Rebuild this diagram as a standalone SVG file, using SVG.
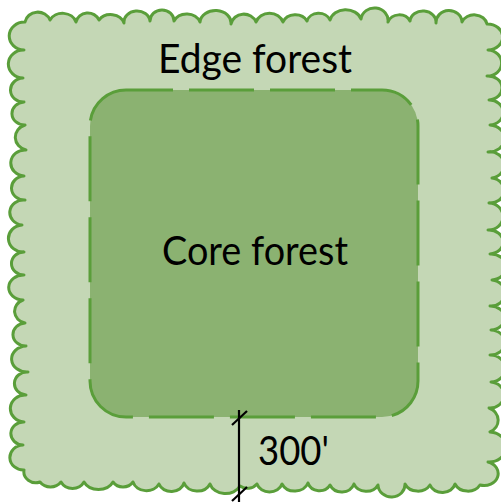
<svg xmlns="http://www.w3.org/2000/svg" width="501" height="502" viewBox="0 0 501 502">
<style>
.lbl{font-family:Lato,"Open Sans",sans-serif;font-size:40px;fill:#000}
</style>
<rect width="501" height="502" fill="#fff"/>
<g id="edge-forest">
<path d="M25,22 A13,12 0 0 1 50,20 A14,12 0 0 1 76,22 A12,11 0 0 1 99,20 A14,12 0 0 1 124,23 A13,11 0 0 1 150,21 A12,11 0 0 1 174,21 A14,12 0 0 1 200,22 A15,12 0 0 1 231,24 A13,12 0 0 1 256,22 A14,12 0 0 1 283,22 A13,11 0 0 1 307,21 A12,10 0 0 1 330,20 A16,13 0 0 1 361,19 A13,12 0 0 1 388,22 A12,11 0 0 1 410,21 A13,11 0 0 1 436,23 A13,12 0 0 1 462,22 A13,11 0 0 1 487,24
A14,12 0 0 1 488,50 A13,12 0 0 1 487,76 A14,12 0 0 1 489,100 A12,11 0 0 1 490,125 A15,13 0 0 1 488,152 A13,12 0 0 1 492,178 A13,12 0 0 1 489,203 A14,13 0 0 1 488,230 A13,11 0 0 1 490,254 A14,12 0 0 1 492,280 A13,12 0 0 1 490,306 A13,11 0 0 1 491,330 A14,12 0 0 1 490,355 A13,12 0 0 1 491,382 A13,12 0 0 1 489,408 A14,13 0 0 1 490,432 A15,13 0 0 1 488,462 A13,11 0 0 1 480,485
A14,12 0 0 1 455,484 A13,11 0 0 1 430,485 A14,12 0 0 1 405,484 A13,12 0 0 1 378,485 A13,11 0 0 1 354,484 A13,12 0 0 1 330,485 A12,11 0 0 1 308,483 A14,12 0 0 1 282,484 A13,11 0 0 1 257,484 A12,11 0 0 1 240,486 A16,13 0 0 1 210,484 A14,12 0 0 1 184,483 A13,11 0 0 1 159,484 A14,12 0 0 1 133,482 A12,11 0 0 1 113,482 A16,13 0 0 1 84,482 A13,12 0 0 1 61,482 A13,12 0 0 1 40,482 A12,11 0 0 1 24,470
A12,11 0 0 1 23,445 A11,10 0 0 1 24,422 A13,12 0 0 1 26,395 A12,11 0 0 1 28,372 A13,11 0 0 1 26,346 A12,11 0 0 1 25,323 A13,12 0 0 1 23,300 A13,11 0 0 1 24,275 A12,11 0 0 1 24,252 A14,13 0 0 1 22,225 A12,11 0 0 1 25,200 A13,12 0 0 1 24,176 A12,11 0 0 1 26,150 A14,13 0 0 1 25,125 A12,11 0 0 1 24,102 A13,12 0 0 1 23,78 A13,12 0 0 1 24,50 A12,11 0 0 1 25,22 Z" fill="#c4d7b5" stroke="#5a9e3a" stroke-width="3" stroke-linejoin="round"/>
<text class="lbl" x="255" y="73" text-anchor="middle" textLength="194" lengthAdjust="spacingAndGlyphs">Edge forest</text>
</g>
<g id="core-forest">
<rect x="90" y="90" width="328" height="327" rx="36" ry="36" fill="#8bb271" stroke="#5a9e3a" stroke-width="3" stroke-dasharray="65 16" stroke-dashoffset="18"/>
<text class="lbl" x="255" y="265" text-anchor="middle" textLength="186" lengthAdjust="spacingAndGlyphs">Core forest</text>
</g>
<g id="connectors" stroke="#000" stroke-width="2.2" fill="none">
<line x1="239" y1="410" x2="239" y2="502"/>
<line x1="232" y1="425" x2="247" y2="411"/>
<line x1="232" y1="501" x2="247" y2="487"/>
</g>
<g id="dim-label">
<text class="lbl" x="258" y="465" textLength="71" lengthAdjust="spacingAndGlyphs">300'</text>
</g>
</svg>
